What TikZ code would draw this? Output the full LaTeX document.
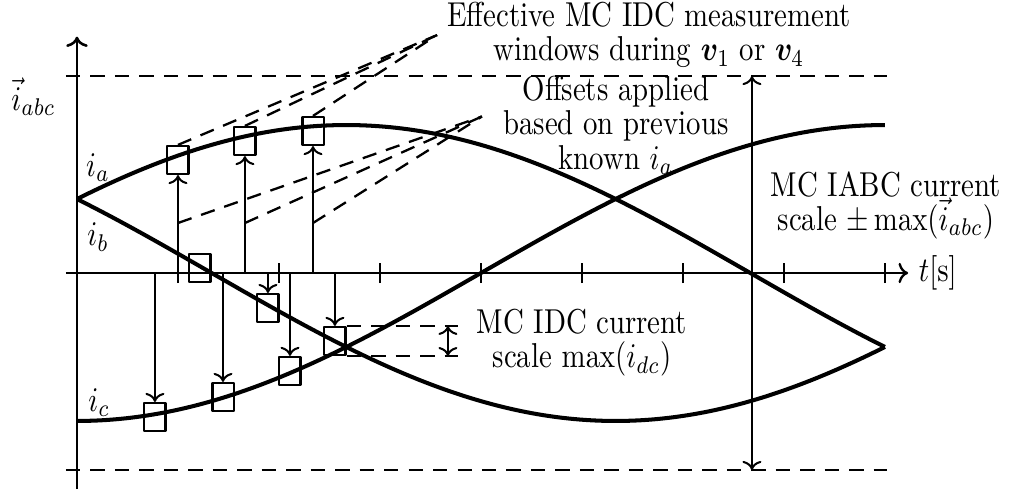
\documentclass[tikz,border=0pt]{standalone}
\usepackage{amsmath,amssymb}
\usepackage{bm}
\usetikzlibrary{arrows.meta,positioning}
\tikzset{
  phase/.style={line width=1.4pt},
  win/.style={draw,line width=.8pt,minimum width=2.6mm,minimum height=3.4mm,inner sep=0pt},
  lead/.style={line width=.8pt,dash pattern=on 5pt off 3.5pt},
  meas/.style={->,line width=.7pt},
  txt/.style={yscale=1.2,transform shape,font=\fontsize{10}{10}\selectfont},
  lbl/.style={txt,align=center,inner sep=3.33pt}
}
\begin{document}
\begin{tikzpicture}[x=1.2326cm,y=1.2326cm,line join=round]
\path[use as bounding box] (-0.762,-2.139) rectangle (9.238,2.703);
\coordinate (o) at (0,0);
\coordinate (offy) at (0,0.495);
\coordinate (imaxl) at (-0.11,1.95);
\coordinate (iminl) at (-0.11,-1.95);
\coordinate (idcr) at (3.772,0);
\coordinate (idca) at (3.673,0);
\coordinate (iabcx) at (6.683,0);
\coordinate (offtip) at (4.01,1.55);
\draw[->,line width=.9pt] (0,-2.139) -- (0,2.34);
\draw[->,line width=.8pt] (-0.11,0) -- (8.23,0) node[txt,right] (t) {$t[\mathrm{s}]$};
\foreach \k in {1,...,8} \draw[line width=.5pt] (\k,-0.1) -- (\k,0.1);
\draw[lead] (imaxl) -- (8.02,1.95);
\draw[lead] (iminl) -- (8.02,-1.95);
\draw[phase] plot[domain=0:8,samples=81,smooth] (\x,{1.465*sin(22.5*\x+30)});
\draw[phase] plot[domain=0:8,samples=81,smooth] (\x,{1.465*sin(22.5*\x+150)});
\draw[phase] plot[domain=0:8,samples=81,smooth] (\x,{-1.465*cos(22.5*\x)});
\node[txt] (iabc) at (-0.43,1.743) {$\vec{i}_{abc}$};
\node[txt] (ia) at (0.21,1.04) {$i_a$};
\node[txt] (ib) at (0.21,0.356) {$i_b$};
\node[txt] (ic) at (0.22,-1.287) {$i_c$};
\node[win] (wa1) at (1.000,1.119) {};
\node[win] (wa2) at (1.663,1.307) {};
\node[win] (wa3) at (2.337,1.406) {};
\node[win] (wb1) at (1.218,0.050) {};
\node[win] (wb2) at (1.891,-0.347) {};
\node[win] (wb3) at (2.554,-0.673) {};
\node[win] (wc1) at (0.772,-1.426) {};
\node[win] (wc2) at (1.446,-1.228) {};
\node[win] (wc3) at (2.109,-0.970) {};
\draw[meas] (wa1 |- o) -- (wa1.south);
\draw[meas] (wa2 |- o) -- (wa2.south);
\draw[meas] (wa3 |- o) -- (wa3.south);
\draw[meas] (wb2 |- o) -- (wb2.north);
\draw[meas] (wb3 |- o) -- (wb3.north);
\draw[meas] (wc1 |- o) -- (wc1.north);
\draw[meas] (wc2 |- o) -- (wc2.north);
\draw[meas] (wc3 |- o) -- (wc3.north);
\node[lbl] (eff) at (5.663,2.356) {Effective MC IDC measurement\\windows during $\bm{v}_1$ or $\bm{v}_4$};
\draw[lead] (wa1.north) -- (eff.west);
\draw[lead] (wa2.north) -- (eff.west);
\draw[lead] (wa3.north) -- (eff.west);
\node[lbl] (off) at (5.337,1.465) {Offsets applied\\based on previous\\known $i_a$};
\draw[lead] (wa1 |- offy) -- (offtip);
\draw[lead] (wa2 |- offy) -- (offtip);
\draw[lead] (wa3 |- offy) -- (offtip);
\draw[lead] (wb3.north east) -- (wb3.north east -| idcr);
\draw[lead] (wb3.south east) -- (wb3.south east -| idcr);
\draw[<->,line width=.7pt] (wb3.north east -| idca) -- (wb3.south east -| idca);
\node[lbl] (idc) at (5.0,-0.69) {MC IDC current\\scale $\max(i_{dc})$};
\draw[<->,line width=.7pt] (iabcx |- imaxl) -- (iabcx |- iminl);
\node[lbl] (abc) at (8.01,0.67) {MC IABC current\\scale $\pm\max(\vec{i}_{abc})$};
\end{tikzpicture}
\end{document}
